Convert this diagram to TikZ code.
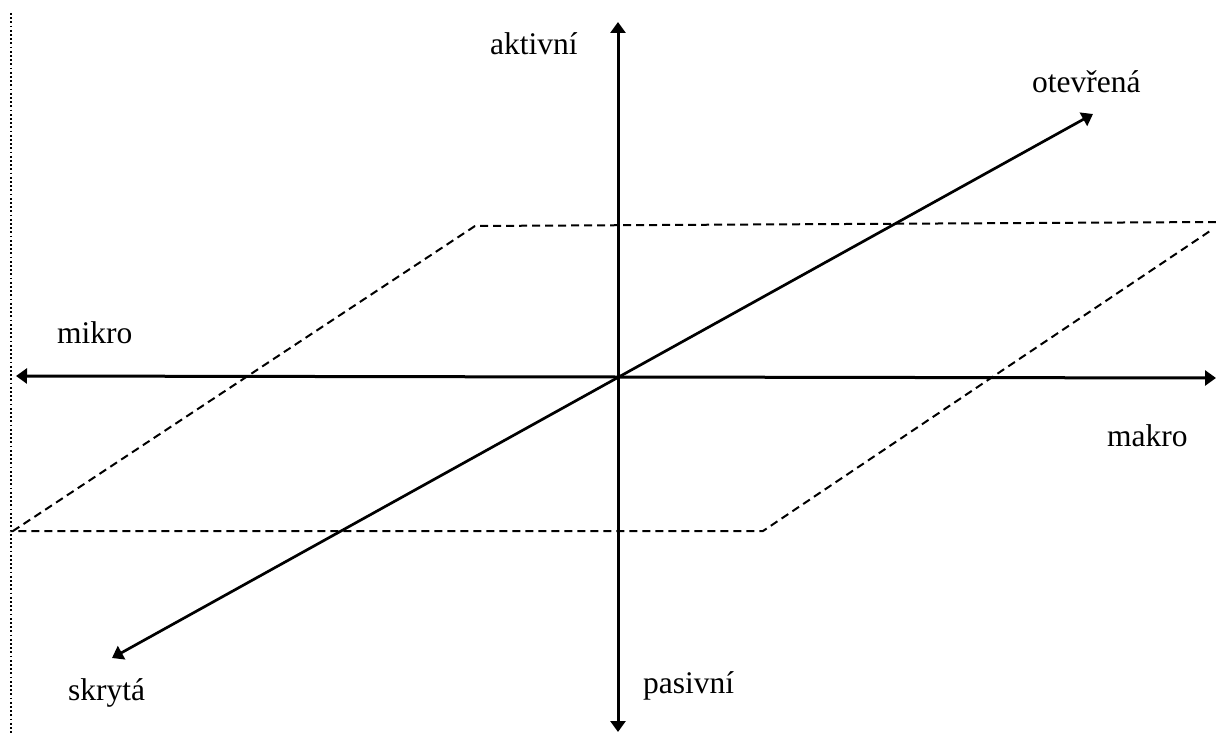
\documentclass[tikz,border=0pt]{standalone}
\usepackage{fontspec}
\setmainfont{Liberation Serif}
\usepackage{tikz}
\usetikzlibrary{arrows.meta, calc, positioning}

\begin{document}
\begin{tikzpicture}[x=1pt, y=-1pt, >={Triangle[length=11pt, width=15pt]},
    axis/.style={line width=3pt, <->},
    plane/.style={line width=2pt, dash pattern=on 8pt off 5pt},
    lbl/.style={inner sep=0pt, anchor=base west, font=\fontsize{31.5}{36}\selectfont}]
    \useasboundingbox (0,0) rectangle (1216,733);

    % tečkovaná čára vlevo
    \coordinate (dtop) at (11,13);
    \coordinate (dbot) at (11,733);
    \draw[line width=1.8pt, dash pattern=on 1.8pt off 2.4pt] (dtop) -- (dbot);

    % rovina
    \coordinate (pa) at (13,531);
    \coordinate (pb) at (475,226);
    \coordinate (pc) at (1216,222);
    \coordinate (pd) at (1213,229);
    \coordinate (pe) at (763,531);
    \draw[plane] (pc) -- (pb) -- (pa) -- (pe) -- (pd);

    % osy
    \coordinate (top) at (618,22);
    \coordinate (bot) at (618,732);
    \coordinate (left) at (16,376);
    \coordinate (right) at (1216,378);
    \coordinate (sk) at (112,658);
    \coordinate (ot) at (1093,114);
    \draw[axis] (bot) -- (top);
    \draw[axis] (left) -- (right);
    \draw[axis, line width=2.7pt] (sk) -- (ot);

    % popisky
    \node[lbl] (aktivni) at (490,55) {aktivní};
    \node[lbl] (pasivni) at (643,693) {pasivní};
    \node[lbl] (mikro) at (57,343) {mikro};
    \node[lbl] (makro) at (1107,446) {makro};
    \node[lbl] (otevrena) at (1032,93) {otevřená};
    \node[lbl] (skryta) at (68,700) {skrytá};
\end{tikzpicture}
\end{document}
